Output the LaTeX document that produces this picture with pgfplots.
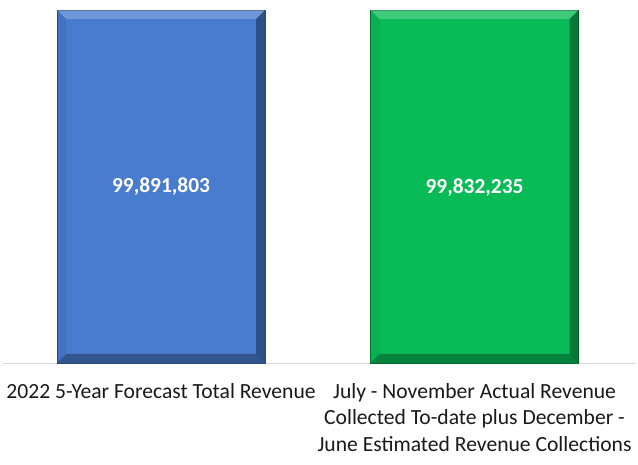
\documentclass[border=0pt]{standalone}
\usepackage{pgfplots}
\pgfplotsset{compat=1.18}
\usepackage{fontspec}
\setmainfont{Carlito}
\definecolor{barblue}{RGB}{73,123,206}
\definecolor{bargreen}{RGB}{8,187,86}
\definecolor{axisgray}{RGB}{217,217,217}
\begin{document}
\begin{tikzpicture}
\useasboundingbox (0,0) rectangle (638bp,465bp);
\begin{axis}[
  at={(3bp,102bp)}, anchor=south west,
  scale only axis,
  width=633bp, height=363bp,
  xmin=-0.504, xmax=1.515,
  ymin=0, ymax=102721600,
  axis x line*=bottom,
  hide y axis,
  x axis line style={draw=axisgray, line width=1bp},
  xtick={0,1},
  xtick style={draw=none},
  xticklabels={{2022 5-Year Forecast Total Revenue},{July - November Actual Revenue\\Collected To-date plus December -\\June Estimated Revenue Collections}},
  xticklabel style={anchor=north, inner sep=0pt, yshift=-20bp, align=center,
    font=\fontsize{21.6bp}{26.5bp}\selectfont, text=black!90},
  ytick=\empty,
  clip=false,
  barplot/.style={ybar, bar width=208bp, bar shift=0pt,
    point meta=explicit symbolic,
    nodes near coords={\pgfplotspointmeta},
    every node near coord/.append style={anchor=center, yshift=-177bp, text=white,
      font=\fontsize{21.4bp}{24bp}\selectfont\bfseries}},
  bev/.style={sharp plot, draw=none, fill=#1, no marks},
]
% bars
\addplot[barplot, fill=barblue, draw=barblue!60!black, line width=0.5bp] coordinates {(0,99891803) [99,891,803]};
\addplot[barplot, fill=bargreen, draw=bargreen!60!black, line width=0.5bp] coordinates {(1,99832235) [99,832,235]};
% bevel, blue bar
\addplot[bev=white, fill opacity=0.22] coordinates {(-0.3317,99891803) (0.3317,99891803) (0.3030,97345003) (-0.3030,97345003)} -- cycle;
\addplot[bev=black, fill opacity=0.35] coordinates {(0.3317,99891803) (0.3317,0) (0.3030,2546800) (0.3030,97345003)} -- cycle;
\addplot[bev=black, fill opacity=0.30] coordinates {(-0.3317,0) (0.3317,0) (0.3030,2546800) (-0.3030,2546800)} -- cycle;
\addplot[bev=black, fill opacity=0.06] coordinates {(-0.3317,99891803) (-0.3317,0) (-0.3030,2546800) (-0.3030,97345003)} -- cycle;
% bevel, green bar
\addplot[bev=white, fill opacity=0.22] coordinates {(0.6683,99832235) (1.3317,99832235) (1.3030,97285435) (0.6970,97285435)} -- cycle;
\addplot[bev=black, fill opacity=0.35] coordinates {(1.3317,99832235) (1.3317,0) (1.3030,2546800) (1.3030,97285435)} -- cycle;
\addplot[bev=black, fill opacity=0.30] coordinates {(0.6683,0) (1.3317,0) (1.3030,2546800) (0.6970,2546800)} -- cycle;
\addplot[bev=black, fill opacity=0.06] coordinates {(0.6683,99832235) (0.6683,0) (0.6970,2546800) (0.6970,97285435)} -- cycle;
\end{axis}
\end{tikzpicture}
\end{document}
